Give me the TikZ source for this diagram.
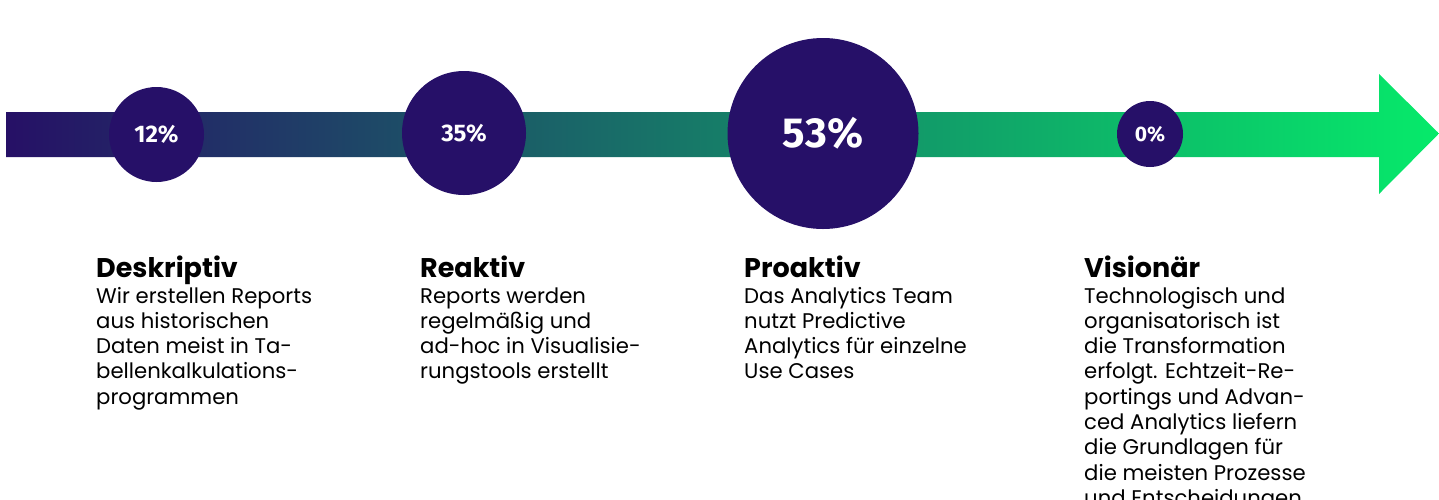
\documentclass[tikz,border=0pt]{standalone}
\usepackage{fontspec}
\setmainfont{Poppins}
\newfontfamily\pctfont{Fira Sans}
\definecolor{barL}{RGB}{38,16,102}
\definecolor{barR}{RGB}{6,234,106}
\definecolor{circ}{RGB}{38,16,104}
\tikzset{
  pcircle/.style={circle, fill=circ, text=white, inner sep=0pt, font=\pctfont\bfseries},
  stagetitle/.style={anchor=base west, inner sep=0pt, font=\bfseries\fontsize{27}{30}\selectfont},
  stagebody/.style={anchor=base west, inner sep=0pt, align=left, font=\fontsize{21.2}{25.3}\selectfont},
}
\begin{document}
\begin{tikzpicture}[x=1pt,y=-1pt]
\useasboundingbox (0,0) rectangle (1439,499);
\clip (0,0) rectangle (1439,499);
\shade[left color=barL, right color=barR]
  (6,112) -- (1379,112) -- (1379,74) -- (1439,133.5) -- (1379,194) -- (1379,157) -- (6,157) -- cycle;
\node[pcircle, minimum size=95pt, font=\pctfont\bfseries\fontsize{24}{26}\selectfont] (c1) at (156.5,134.5) {12\%};
\node[pcircle, minimum size=124pt, font=\pctfont\bfseries\fontsize{24}{26}\selectfont] (c2) at (464,133) {35\%};
\node[pcircle, minimum size=191pt, font=\pctfont\bfseries\fontsize{42}{44}\selectfont] (c3) at (823,133.5) {53\%};
\node[pcircle, minimum size=66pt, font=\pctfont\bfseries\fontsize{21}{24}\selectfont] (c4) at (1150,134) {0\%};

\node[stagetitle] (t1) at (96,277) {Deskriptiv};
\node[stagebody] (b1) at (96,404.2) {Wir erstellen Reports\\aus historischen\\Daten meist in Ta-\\bellenkalkulations-\\programmen};
\node[stagetitle] (t2) at (420,277) {Reaktiv};
\node[stagebody] (b2) at (420,378.9) {Reports werden\\regelmäßig und\\ad-hoc in Visualisie-\\rungstools erstellt};
\node[stagetitle] (t3) at (744,277) {Proaktiv};
\node[stagebody] (b3) at (744,378.9) {Das Analytics Team\\nutzt Predictive\\Analytics für einzelne\\Use Cases};
\node[stagetitle] (t4) at (1084,277) {Visionär};
\node[stagebody] (b4) at (1084,505.4) {Technologisch und\\organisatorisch ist\\die Transformation\\erfolgt. Echtzeit-Re-\\portings und Advan-\\ced Analytics liefern\\die Grundlagen für\\die meisten Prozesse\\und Entscheidungen};
\end{tikzpicture}
\end{document}
